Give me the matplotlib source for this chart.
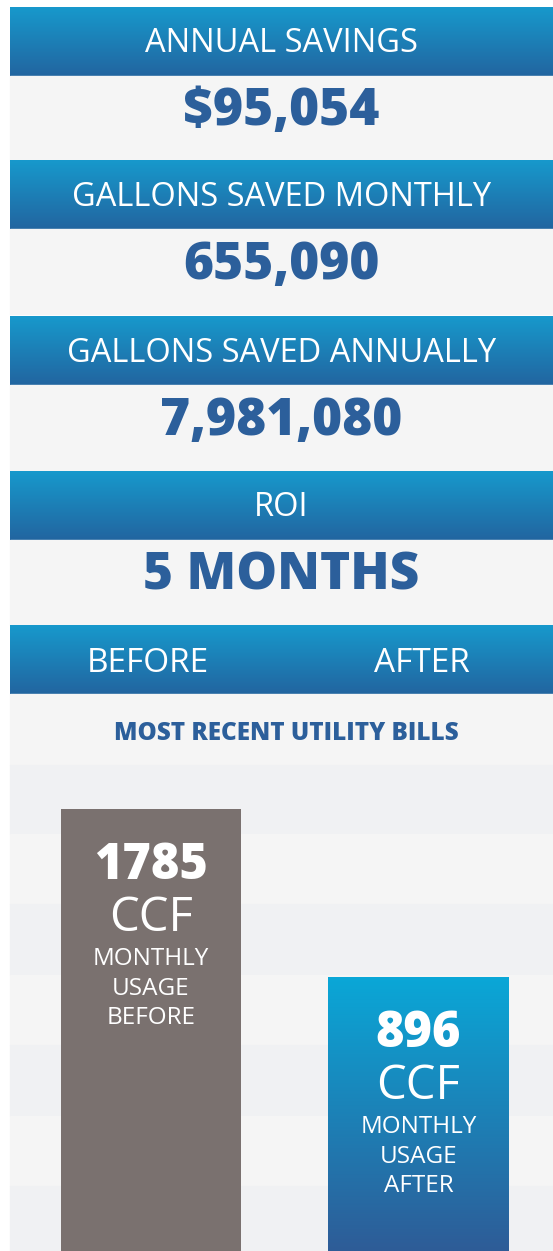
import matplotlib
matplotlib.use("Agg")
import matplotlib.pyplot as plt
import numpy as np
from matplotlib.colors import LinearSegmentedColormap
from matplotlib.patches import Rectangle

# ---- data ----
headers = ['ANNUAL SAVINGS', 'GALLONS SAVED MONTHLY', 'GALLONS SAVED ANNUALLY', 'ROI']
values = ['$95,054', '655,090', '7,981,080', '5 MONTHS']
bar_names = ['BEFORE', 'AFTER']
usage_ccf = [1785, 896]
subtitle = 'MOST RECENT UTILITY BILLS'

W, H = 553, 1251
FONT = ['Open Sans', 'DejaVu Sans']
navy = '#2c5f9b'
hdr_cmap = LinearSegmentedColormap.from_list('hdr', ['#1799cc', '#2265a0'])
after_cmap = LinearSegmentedColormap.from_list('aft', ['#0aa7d7', '#2e5c97'])
grad = np.linspace(0, 1, 256).reshape(-1, 1)

fig = plt.figure(figsize=(W / 100, H / 100), dpi=100)
fig.patch.set_facecolor('white')

# background axes in pixel coords
bg = fig.add_axes([0, 0, 1, 1])
bg.set_xlim(0, W)
bg.set_ylim(H, 0)
bg.axis('off')

L = 10
hdr_tops = [7, 160, 316, 471, 625]
hdr_h = 69
panel_h = 85

def header(y0):
    bg.imshow(grad, cmap=hdr_cmap, aspect='auto', extent=(L, W, y0 + hdr_h, y0), zorder=1)

for i, (h, v) in enumerate(zip(headers, values)):
    y0 = hdr_tops[i]
    header(y0)
    bg.add_patch(Rectangle((L, y0 + hdr_h), W - L, panel_h, color='#f5f5f5', zorder=1))
    bg.text(W / 2 + 5, y0 + 37, h, color='white', fontsize=23.5, family=FONT,
            fontweight='normal', ha='center', va='center', zorder=3)
    bg.text(W / 2 + 5, y0 + hdr_h + 36, v, color=navy, fontsize=37, family=FONT,
            fontweight='heavy', ha='center', va='center', zorder=3)

# before / after header
header(hdr_tops[4])
bg.text(148, hdr_tops[4] + 38, bar_names[0], color='white', fontsize=24, family=FONT,
        fontweight='normal', ha='center', va='center', zorder=3)
bg.text(422, hdr_tops[4] + 38, bar_names[1], color='white', fontsize=24, family=FONT,
        fontweight='normal', ha='center', va='center', zorder=3)
bg.add_patch(Rectangle((L, 694), W - L, 71, color='#f5f5f5', zorder=1))
bg.text(286, 733, subtitle, color=navy, fontsize=17.5, family=FONT,
        fontweight='heavy', ha='center', va='center', zorder=3)

# stripes
stripe_y = [765, 834, 904, 975, 1045, 1116, 1186, 1251]
for k in range(len(stripe_y) - 1):
    c = '#f0f1f3' if k % 2 == 0 else '#f5f5f5'
    bg.add_patch(Rectangle((L, stripe_y[k]), W - L, stripe_y[k + 1] - stripe_y[k],
                           color=c, zorder=1))

# ---- bar chart ----
ax = fig.add_axes([L / W, 0, (W - L) / W, (H - 765) / H])
ax.patch.set_alpha(0)
ax.axis('off')
ymin, ymax = -554, 2018
x = np.arange(len(usage_ccf))
heights = [u - ymin for u in usage_ccf]
bars = ax.bar(x, heights, bottom=ymin, width=0.673, color=['#7a716f', 'none'],
              edgecolor='none', zorder=2)

# gradient for the "after" bar
b = bars[1]
im = ax.imshow(grad, cmap=after_cmap, aspect='auto', zorder=2,
               extent=(b.get_x(), b.get_x() + b.get_width(), ymin, usage_ccf[1]))
im.set_clip_path(b)
ax.set_xlim(-0.527, 1.503)
ax.set_ylim(ymin, ymax)

for xi, u, name in zip(x, usage_ccf, bar_names):
    ax.annotate(str(u), (xi, u), xytext=(0, -57), textcoords='offset pixels',
                ha='center', va='center', color='white', fontsize=35,
                family=FONT, fontweight='heavy', zorder=4)
    ax.annotate('CCF', (xi, u), xytext=(0, -109), textcoords='offset pixels',
                ha='center', va='center', color='white', fontsize=34,
                family=FONT, fontweight='normal', zorder=4)
    for j, line in enumerate(['MONTHLY', 'USAGE', name]):
        ax.annotate(line, (xi, u), xytext=(0, -150 - 29.5 * j), textcoords='offset pixels',
                    ha='center', va='center', color='white', fontsize=17.5,
                    family=FONT, fontweight='normal', zorder=4)

fig.savefig('out.png', dpi=100)
